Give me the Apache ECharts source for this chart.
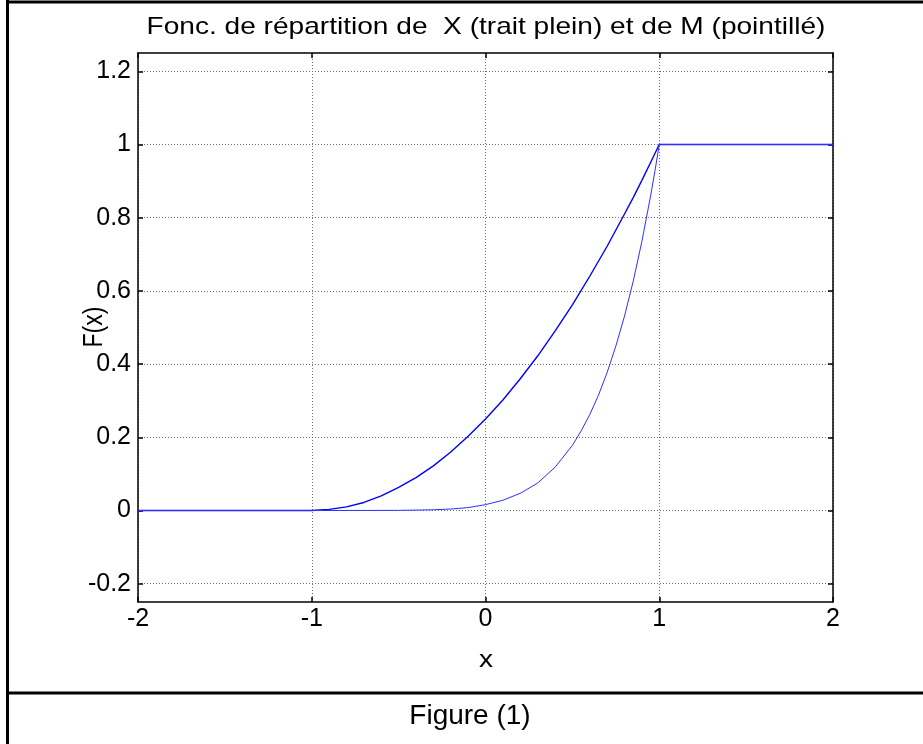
<!DOCTYPE html>
<html>
<head>
<meta charset="utf-8">
<script src="https://cdn.jsdelivr.net/npm/echarts@6/dist/echarts.min.js"></script>
<style>
  html, body { margin: 0; padding: 0; background: #fff; }
  #chart { width: 923px; height: 744px; }
</style>
</head>
<body>
<div id="chart"></div>
<script>
// Values
const xTicks = [-2, -1, 0, 1, 2]
const yTicks = [-0.2, 0, 0.2, 0.4, 0.6, 0.8, 1, 1.2]

// F of X (solid line)
const xGridX = [-2, -1, -0.9, -0.8, -0.7, -0.6, -0.5, -0.4, -0.3, -0.2, -0.1,
    0, 0.1, 0.2, 0.3, 0.4, 0.5, 0.6, 0.7, 0.8, 0.85, 0.9, 0.95, 1, 2]
const cdfX = [0, 0, 0.003, 0.01, 0.022, 0.04, 0.063, 0.09, 0.122, 0.16, 0.203,
    0.25, 0.302, 0.36, 0.422, 0.49, 0.562, 0.64, 0.722, 0.81, 0.855, 0.902, 0.951, 1, 1]

// F of M (second line)
const mGridX = [-2, -1, -0.5, -0.3, -0.2, -0.1, 0, 0.1, 0.2, 0.3, 0.4, 0.5,
    0.55, 0.6, 0.65, 0.7, 0.75, 0.8, 0.85, 0.9, 0.95, 0.975, 1, 2]
const cdfM = [0, 0, 0.0003, 0.002, 0.004, 0.008, 0.016, 0.028, 0.047, 0.075, 0.118, 0.178,
    0.217, 0.262, 0.315, 0.377, 0.449, 0.531, 0.626, 0.735, 0.859, 0.927, 1, 1]

const pairs = (xs, ys) => xs.map((x, i) => [x, ys[i]])

const chart = echarts.init(document.getElementById('chart'))

const font = '"Liberation Sans", Arial, sans-serif'
const gridLine = { show: true, lineStyle: { color: '#6e6e6e', type: [1, 2], width: 1 } }
const tick = { show: true, inside: true, length: 5, lineStyle: { color: '#000', width: 1.5 } }
const line = { show: true, onZero: false, lineStyle: { color: '#000', width: 1.5 } }
const label = { color: '#000', fontSize: 25, fontFamily: font }

const options = {
    animation: false,
    backgroundColor: '#fff',
    grid: { left: 138, right: 90, top: 53, bottom: 142 },
    xAxis: [{
        type: 'value', min: -2, max: 2, interval: 1, position: 'bottom',
        axisLine: line, axisTick: tick, splitLine: gridLine,
        axisLabel: { ...label, margin: 5, customValues: xTicks }
    }, {
        type: 'value', min: -2, max: 2, interval: 1, position: 'top',
        axisLine: line, axisTick: tick, splitLine: { show: false },
        axisLabel: { show: false }
    }],
    yAxis: [{
        type: 'value', min: -0.25, max: 1.25, position: 'left',
        axisLine: line,
        axisTick: { ...tick, customValues: yTicks },
        splitLine: gridLine,
        axisLabel: { ...label, margin: 7, customValues: yTicks }
    }, {
        type: 'value', min: -0.25, max: 1.25, position: 'right',
        axisLine: line,
        axisTick: { ...tick, customValues: yTicks },
        splitLine: { show: false },
        axisLabel: { show: false, customValues: yTicks }
    }],
    series: [{
        name: 'X',
        type: 'line',
        data: pairs(xGridX, cdfX),
        showSymbol: false,
        smooth: false,
        lineStyle: { color: '#0000ff', width: 1.4 }
    }, {
        name: 'M',
        type: 'line',
        data: pairs(mGridX, cdfM),
        showSymbol: false,
        smooth: false,
        lineStyle: { color: '#2f2fff', width: 1 }
    }],
    graphic: [
        // outer frame of the figure
        { type: 'line', shape: { x1: 7.5, y1: 0, x2: 7.5, y2: 744 }, style: { stroke: '#000', lineWidth: 3 } },
        { type: 'line', shape: { x1: 6, y1: 2, x2: 923, y2: 2 }, style: { stroke: '#000', lineWidth: 3 } },
        { type: 'line', shape: { x1: 6, y1: 693, x2: 923, y2: 693 }, style: { stroke: '#000', lineWidth: 3 } },
        {
            type: 'text', x: 486, y: 27, scaleX: 1.17,
            style: { text: 'Fonc. de répartition de  X (trait plein) et de M (pointillé)', font: '24px ' + font, fill: '#000', textAlign: 'center', textVerticalAlign: 'middle' }
        },
        {
            type: 'text', x: 486, y: 660, scaleX: 1.17,
            style: { text: 'x', font: '24px ' + font, fill: '#000', textAlign: 'center', textVerticalAlign: 'middle' }
        },
        {
            type: 'text', x: 95, y: 327, rotation: Math.PI / 2, scaleY: 1.17,
            style: { text: 'F(x)', font: '23px ' + font, fill: '#000', textAlign: 'center', textVerticalAlign: 'middle' }
        },
        {
            type: 'text', x: 470, y: 716,
            style: { text: 'Figure (1)', font: '28px ' + font, fill: '#000', textAlign: 'center', textVerticalAlign: 'middle' }
        }
    ]
}
chart.setOption(options)
</script>
</body>
</html>
